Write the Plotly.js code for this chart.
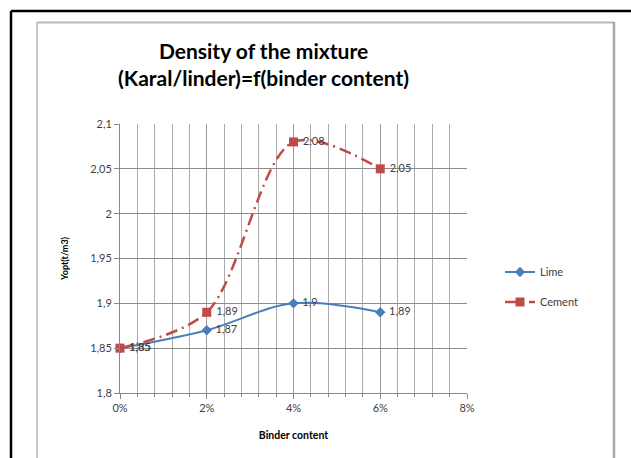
<!DOCTYPE html>
<html>
<head>
<meta charset="utf-8">
<script src="https://cdn.plot.ly/plotly-3.0.1.min.js"></script>
<style>
html,body{margin:0;padding:0;background:#fff;}
#chart{width:631px;height:458px;}
</style>
</head>
<body>
<div id="chart"></div>
<script>
// Data
const binderContent = [0, 0.02, 0.04, 0.06];
const limeValues = [1.85, 1.87, 1.90, 1.89];
const cementValues = [1.85, 1.89, 2.08, 2.05];
const seriesNames = ['Lime', 'Cement'];
const yTickValues = [1.8, 1.85, 1.9, 1.95, 2.0, 2.05, 2.1];
const yTickLabels = ['1,8', '1,85', '1,9', '1,95', '2', '2,05', '2,1'];
const xTickValues = [0, 0.02, 0.04, 0.06, 0.08];
const xTickLabels = ['0%', '2%', '4%', '6%', '8%'];

const fmt = v => String(v).replace('.', ',');

// plot area in pixels
const L = 120, R = 467, T = 124, B = 393, W = 631, H = 458;
const px = x => (x - L) / (R - L);
const py = y => (B - y) / (B - T);

const FONT = 'Lato, "Open Sans", sans-serif';

const traces = [
  {
    x: binderContent, y: limeValues, name: seriesNames[0], legendgroup: 'a',
    type: 'scatter', mode: 'lines+markers+text',
    line: {color: '#4a7ebb', width: 2, shape: 'spline', smoothing: 1},
    marker: {symbol: 'diamond', size: 8, color: '#4a7ebb'},
    text: limeValues.map(v => ' ' + fmt(v)), textposition: 'middle right',
    textfont: {family: FONT, size: 11, color: '#404040'},
    cliponaxis: false
  },
  {
    x: binderContent, y: cementValues, name: seriesNames[1], legendgroup: 'b',
    type: 'scatter', mode: 'lines+markers+text',
    line: {color: '#be4b48', width: 2.5, shape: 'spline', smoothing: 0.9, dash: '12px,5px,2px,5px'},
    marker: {symbol: 'square', size: 9, color: '#be4b48'},
    text: cementValues.map(v => ' ' + fmt(v)), textposition: 'middle right',
    textfont: {family: FONT, size: 11, color: '#404040'},
    cliponaxis: false
  }
];

const layout = {
  width: W, height: H,
  margin: {l: L, r: W - R, t: T, b: H - B, pad: 0},
  paper_bgcolor: '#ffffff', plot_bgcolor: '#ffffff',
  separators: ', ',
  font: {family: FONT, color: '#404040'},
  title: {
    text: '<b>Density of the mixture<br>(Karal/linder)=f(binder content)</b>',
    font: {family: FONT, size: 21, color: '#000000'},
    x: 261 / W, xanchor: 'center', xref: 'paper',
    y: 1 - 59 / H, yanchor: 'middle', yref: 'container'
  },
  xaxis: {
    range: [0, 0.08],
    tickvals: xTickValues, ticktext: xTickLabels,
    tickfont: {family: FONT, size: 11, color: '#404040'},
    showgrid: true, gridcolor: '#9a9a9a', gridwidth: 1,
    minor: {dtick: 0.004, showgrid: true, gridcolor: '#ababab', gridwidth: 1, ticks: 'outside', ticklen: 3, tickcolor: '#888'},
    showline: true, linecolor: '#888888', linewidth: 1,
    ticks: 'outside', ticklen: 5, tickcolor: '#888888',
    zeroline: false,
    title: {text: '<b>Binder content</b>', font: {family: FONT, size: 10.5, color: '#000'}, standoff: 18}
  },
  yaxis: {
    range: [1.8, 2.1],
    tickvals: yTickValues, ticktext: yTickLabels,
    tickfont: {family: FONT, size: 11, color: '#404040'},
    showgrid: true, gridcolor: '#8a8a8a', gridwidth: 1,
    showline: true, linecolor: '#888888', linewidth: 1,
    ticks: 'outside', ticklen: 5, tickcolor: '#888888',
    zeroline: false,
    title: {text: '<b>Yopt(t/m3)</b>', font: {family: FONT, size: 9, color: '#000'}, standoff: 20}
  },
  showlegend: true,
  legend: {
    x: px(500), xanchor: 'left', y: py(287), yanchor: 'middle',
    font: {family: FONT, size: 11, color: '#404040'},
    bgcolor: 'rgba(0,0,0,0)', tracegroupgap: 11, traceorder: 'grouped'
  },
  shapes: [
    // outer black frame
    {type: 'line', xref: 'paper', yref: 'paper', x0: px(11), x1: px(11), y0: py(11), y1: py(470), line: {color: '#000', width: 2.5}},
    {type: 'line', xref: 'paper', yref: 'paper', x0: px(11), x1: px(640), y0: py(11), y1: py(11), line: {color: '#000', width: 2.5}},
    // inner gray chart frame
    {type: 'line', xref: 'paper', yref: 'paper', x0: px(37), x1: px(37), y0: py(22), y1: py(470), line: {color: '#c8c8c8', width: 2}},
    {type: 'line', xref: 'paper', yref: 'paper', x0: px(37), x1: px(614), y0: py(22.5), y1: py(22.5), line: {color: '#b8b8b8', width: 2}},
    {type: 'line', xref: 'paper', yref: 'paper', x0: px(614), x1: px(614), y0: py(22), y1: py(470), line: {color: '#a8a8a8', width: 2.5}}
  ]
};

Plotly.newPlot('chart', traces, layout, {displayModeBar: false, staticPlot: true});
</script>
</body>
</html>
